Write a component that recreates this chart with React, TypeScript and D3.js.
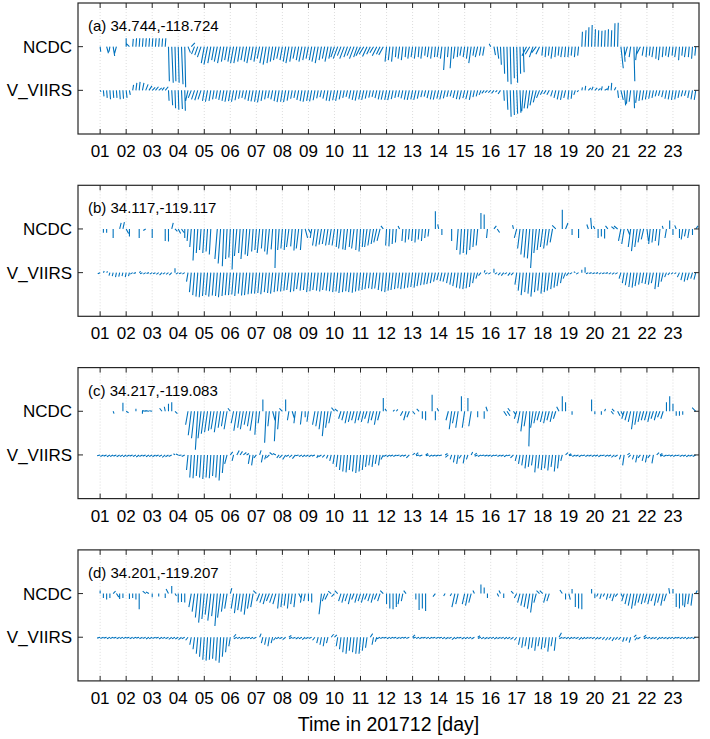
import React from 'react';
import * as d3 from 'd3';

// gaps in the record
const _ = null;

// day tick labels, December 2017
const dayLabels = ['01', '02', '03', '04', '05', '06', '07', '08', '09', '10', '11', '12',
  '13', '14', '15', '16', '17', '18', '19', '20', '21', '22', '23'];
const samplesPerDay = 8; // 3-hourly sticks
const rowNames = ['NCDC', 'V_VIIRS'];

// ---- (a) 34.744,-118.724 ---- v / u in m/s, one inner array per day
const ncdcA_v = [
  [-1.7, _, -2.2, -1.7, -3.1, -2.2, _, _], [2.8, 1.2, 2.6, 2.8, 2.8, 2.8, 2.8, 2.8],
  [2.8, 2.8, 2.8, 2.7, 2.8, -11.5, -12, -11.5], [-12, -12.5, -13.5, -2, 1.3, -2.5, -2.8, -3.5],
  [-5.5, -6, -5.5, -4.5, -5, -5.5, -5, -4.5], [-5, -5.5, -5.5, -5, -4.5, -5, -5.5, -4.5],
  [-5, -4, -5.5, -6, -5.5, -5, -4.5, -4], [-4.5, -5, -5.5, -5, -4, -4.5, -5, -4.5],
  [-4, -4.5, -5, -5.5, -4.5, -4, -5, -4], [-3.5, -4, -3, -4, -3.5, -3, -4, -3.5],
  [-3, -2.5, -3.3, -2.5, -2, -3, -2.5, -2.8], [-5, -4.5, -5, -3.5, -4, -4.5, -3.5, -4],
  [-3.5, -4, -3.5, -4, -3, -3.5, -4, -3.5], [-3.5, -4, -7.8, -3.5, -7.2, -4, -3.5, -3],
  [-3.5, -4, -5.5, -3, -3.5, -3, -3, _], [1, -2.8, -4, -6, -9, -11.7, -12.5, -10.5],
  [-12, -9, -8.5, -3, -2.5, -3.5, -2, -2.5], [-3, -3.5, -3, -4, -3.5, -3, -3.5, -3.5],
  [-3.5, -3, -3.5, -3, 5, 5.5, 6.5, 7.2], [5.8, 5.5, 5.3, 5.5, 5.8, 5.5, 7.8, 8],
  [-7.2, -5, -3.5, -3.5, -11.5, -4.5, -2.5, -3], [-3.5, -3, -3.5, -4, -4.5, -3.5, -3, -3.5],
  [-3, -3.5, -4.5, -3, -3.5, -3.5, -4, -3],
];
const ncdcA_u = [
  [0.2, _, 0.6, -0.3, 0.5, -0.6, _, _], [0, -1.2, 0.2, 0.2, 0.2, 0.2, 0.2, 0.2],
  [0.2, 0.2, 0.2, 0.2, 0.2, 0.3, 0.5, 0.3], [0.3, 0.5, 0.3, 0.8, 1.2, -1, -1, -1.2],
  [-1, -1.2, -1, -0.8, -1, -1, -0.8, -0.8], [-0.8, -1, -1, -0.8, -0.8, -0.8, -1, -0.8],
  [-0.8, -0.8, -1, -1, -0.8, -0.8, -0.8, -0.8], [-0.8, -0.8, -1, -0.8, -0.8, -0.8, -1, -0.8],
  [-0.8, -0.8, -1, -1, -0.8, -0.8, -1, -0.8], [-1.2, -1.5, -1.2, -1.5, -1.2, -1.2, -1.5, -1.2],
  [-1.5, -1.5, -1.5, -1.2, -1.2, -1.5, -1.2, -1.5], [-0.5, -0.5, -0.5, -0.3, -0.5, -0.5, -0.3, -0.5],
  [-0.5, -0.5, -0.3, -0.5, -0.3, -0.5, -0.5, -0.3], [-0.5, -0.5, -0.5, -0.3, -0.5, -0.5, -0.3, -0.5],
  [-0.5, -0.5, -0.8, -0.5, -0.8, -0.5, -0.5, _], [-0.5, 0.5, 0.5, 0.3, 0.3, 0.3, 0.3, 0.3],
  [0.3, 0.2, 0.3, -1.5, -1.5, -1.2, -1.5, -1.2], [-0.3, -0.3, -0.3, -0.5, -0.3, -0.3, -0.5, -0.3],
  [-0.3, -0.3, -0.3, -0.3, 0.2, 0.3, 0.2, 0.2], [0.2, 0.2, 0.2, 0.2, 0.2, 0.2, 0.2, 0.2],
  [0.8, 0.3, -1, -0.5, 0.3, -0.5, -1.3, -0.5], [-0.3, -0.3, -0.5, -0.3, -0.5, -0.3, -0.3, -0.5],
  [-0.3, -0.5, -0.3, -0.3, -0.5, -0.3, -0.3, -0.3],
];
const viirsA_v = [
  [-0.5, -2, -2.5, -3, -2.5, -2.5, -3, -2.8], [-2.5, -1.5, 1.8, 2.5, 2.8, 2.5, 2, 1.5],
  [1, 1.2, 0.8, 1, 1.2, -3.5, -5, -6], [-6.5, -6.2, -6.8, -3.5, -2.5, -3, -3.3, -3],
  [-3.5, -3.8, -3.5, -3, -2.8, -3.2, -3.5, -3.8], [-3.6, -3.8, -3.3, -2.8, -2.5, -3, -3.5, -3.7],
  [-3.8, -4, -3.5, -3, -2.6, -3, -3.6, -3.9], [-3.8, -3.9, -3.4, -2.8, -2.5, -3.2, -3.6, -3.8],
  [-3.5, -3.7, -3.3, -2.7, -2.3, -2.8, -3.4, -3.6], [-3.3, -3.5, -3, -2.5, -2.2, -2.8, -3.2, -3.4],
  [-3, -3.2, -2.8, -2.4, -2.2, -2.6, -3, -3.1], [-3.2, -3.3, -2.9, -2.5, -2.3, -2.7, -3.1, -3.2],
  [-3, -3.2, -2.8, -2.3, -2.1, -2.6, -3, -3.1], [-2.8, -3, -2.7, -2.2, -2, -2.5, -2.9, -3],
  [-2.6, -2.9, -3.2, -2.3, -2, -1.5, -1, -0.8], [-0.8, -1, -0.6, -1.2, -3.5, -6.5, -8.8, -8.2],
  [-7.8, -7.5, -7, -6, -6, -5, -4, -2.5], [-1.5, -1.2, -1.5, -2, -2.5, -3, -3.2, -2.5],
  [-3, -2.8, -1.5, -0.5, 1, 1.5, 0.8, 1.2], [0.8, 0.6, 1.3, 0.5, 1.5, 2.5, 1, -2.5],
  [-3.2, -5, -4.5, -3.8, -6, -4.2, -3.5, -3.3], [-3, -2.8, -2.5, -2, -1.8, -2.3, -2.8, -3],
  [-3.2, -3, -2.5, -2, -1.8, -2.5, -3, -3.2],
];
const viirsA_u = [
  [0.3, 0.2, 0.2, 0.2, 0.2, 0.2, 0.2, 0.2], [0.3, 0.3, 0.3, 0.3, 0.3, 0.5, 0.8, 1],
  [1, 1, 1, 0.8, 1, 0.2, 0.3, 0.2], [0.2, 0.3, 0.2, -0.8, -1, -1, -1, -1],
  [-0.6, -0.7, -0.6, -0.5, -0.5, -0.6, -0.6, -0.7], [-0.6, -0.7, -0.6, -0.5, -0.5, -0.6, -0.6, -0.7],
  [-0.6, -0.7, -0.6, -0.5, -0.5, -0.6, -0.6, -0.7], [-0.6, -0.7, -0.6, -0.5, -0.5, -0.6, -0.6, -0.7],
  [-0.6, -0.7, -0.6, -0.5, -0.5, -0.6, -0.6, -0.7], [-0.6, -0.7, -0.6, -0.5, -0.5, -0.6, -0.6, -0.7],
  [-0.6, -0.7, -0.6, -0.5, -0.5, -0.6, -0.6, -0.7], [-0.6, -0.7, -0.6, -0.5, -0.5, -0.6, -0.6, -0.7],
  [-0.6, -0.7, -0.6, -0.5, -0.5, -0.6, -0.6, -0.7], [-0.6, -0.7, -0.6, -0.5, -0.5, -0.6, -0.6, -0.7],
  [-0.6, -0.7, -0.6, -0.5, -0.5, -0.6, -0.8, -0.8], [-0.8, -0.8, -0.6, -0.8, 0.2, 0.3, 0.3, 0.3],
  [0.3, 0.3, -0.5, -0.8, -0.8, -1, -1, -1], [-0.8, -0.8, -0.8, -0.6, -0.6, -0.6, -0.6, -0.6],
  [-0.3, -0.3, -0.5, -0.5, 0.2, 0.2, 0.8, 0.5], [0.8, 0.8, 0.3, 1, 0.3, 0.2, 0.5, 0.3],
  [0.8, 0.5, -0.3, -0.5, 0.2, -0.5, -0.5, -0.5], [-0.5, -0.5, -0.5, -0.5, -0.5, -0.5, -0.5, -0.5],
  [-0.5, -0.5, -0.5, -0.5, -0.5, -0.5, -0.5, -0.5],
];

// ---- (b) 34.117,-119.117 ----
const ncdcB_v = [
  [_, -1.3, -1.3, _, -3, _, 2, 2.3], [-1.5, -2.5, _, _, -3, _, -0.5, _],
  [-3, _, _, _, -4, -4.2, 2, -0.8], [-1.5, -1.2, -3, -4, -6, -10.5, -8, -7],
  [-8, -7.5, -8.5, _, -10, -11.5, -12.4, -10], [-9.5, -13.5, -9, -8, -10, -8.5, -9, -7.5],
  [-7, -8, -6.5, -7.5, -8.5, -6.8, -13, -7], [-6.5, -7, -6, -5.8, -7.2, -6.5, -7, -3],
  [-1.5, -3, -5.5, -5.8, -5.2, -5, -5.5, -5.3], [-5.5, -6, -6.5, -6.8, -7, -6, -6.5, -7],
  [-7.5, -6, -6, -5.5, -5, -4.5, -4, 1], [-5.5, -5.8, -5, -4.5, 1, -4, -4.5, -3.5],
  [-4, -4.5, -3.5, -4, -3, -2.5, _, 5.9], [1.5, -2, _, _, -4, _, -7, -8.5],
  [-8, -8.5, -7, -6, -5.5, 5.3, 4.8, -3], [_, 1, -1.2, _, _, _, _, 1.3],
  [-3, -6.5, -8.5, -9.5, -9.8, -13, -8, -7], [-6, -6.5, -5.5, -4.5, 1.2, _, 6.4, 2],
  [_, -2, _, -3, _, _, 1.5, 3.7], [1, -3, -2.5, -3.2, 1, _, 0.8, 1],
  [-4, -5, -2, -6, -7.4, -6, -4.5, -3.5], [-4, -5, -4.5, -4, -5.5, 1, -3, 2.8],
  [-2, 1.2, -3, -3.5, -2.5, -3, -2, 1],
];
const ncdcB_u = [
  [_, 0, 0, _, 0, _, 0.5, 0.5], [0.8, 0, _, _, 0, _, -0.8, _],
  [0, _, _, _, 0, 0, 0.5, 0.8], [0.8, 0.8, 0, -0.3, -0.5, -0.5, -0.5, -0.5],
  [-0.5, -0.5, -0.5, _, -0.8, -0.8, -0.5, -0.5], [-0.5, -0.5, -0.8, -0.5, -0.8, -0.5, -0.8, -0.5],
  [-0.5, -0.8, -0.5, -0.5, -0.8, -0.5, -0.3, -0.5], [-0.5, -0.5, -0.8, -0.5, -0.5, -0.8, -0.5, 0.8],
  [0.8, -0.5, -0.8, -0.8, -0.8, -0.8, -0.8, -0.8], [-0.8, -0.5, -0.8, -0.5, -0.8, -0.5, -0.8, -0.5],
  [-0.5, -0.5, -0.8, -0.8, -0.8, -1, -1, -0.8], [-0.3, -0.3, -0.3, -0.3, -0.5, -0.3, -0.3, -0.3],
  [-0.3, -0.3, -0.3, -0.3, -0.3, -0.3, _, 0], [-0.3, 0, _, _, 0, _, -0.5, -0.5],
  [-0.5, -0.5, -0.5, -0.5, -0.5, 0, 0, -0.3], [_, 0.8, 0.8, _, _, _, _, -0.3],
  [-0.8, -0.8, -0.8, -0.8, -0.8, -0.8, -0.8, -0.8], [-0.8, -0.8, -0.8, -0.8, -1.2, _, 0, 0.8],
  [_, 0, _, 0, _, _, -0.5, -0.3], [-0.5, 0, 0, 0, -0.8, _, -1, -1.2],
  [-0.8, -0.8, 0.8, -0.8, -0.8, -0.8, -0.8, -0.8], [0.5, -0.5, -0.5, -0.5, -0.5, -0.3, -0.5, 0],
  [0, -0.5, 0, -0.5, -0.5, -0.5, 0, 0.8],
];
const viirsB_v = [
  [-0.4, 0.5, 0.4, -1, -1.2, -1.5, -1.3, -1.2], [-1.5, -1.2, -0.5, -0.3, 0.4, -0.4, -0.5, -0.3],
  [-0.5, -0.4, -0.6, -0.8, -0.5, -0.6, -0.8, 1.5], [-0.5, -0.4, -0.5, -3, -6.5, -7.5, -8, -8.2],
  [-7.8, -7.5, -8, -7.6, -7.8, -8.2, -7.8, -7.5], [-7.5, -7.3, -7.8, -7, -7.6, -7.5, -7.2, -7],
  [-7, -6.8, -7.2, -6.5, -6.8, -7, -6.5, -6.2], [-6.3, -6, -5.8, -6.5, -6.2, -5.5, -6, -5.8],
  [-6.5, -6.2, -5.8, -6, -6.3, -5.8, -6, -6.2], [-6.5, -6.3, -6.8, -6.5, -6.2, -6.5, -6.7, -6.3],
  [-6, -5.8, -5.5, -5.2, -5.5, -5.3, -5.8, -6.2], [-6.5, -6, -5.8, -5.5, -5.2, -5.5, -5.3, -5],
  [-4.8, -5, -4.5, -4.2, -4, -3.8, -3.5, -3], [-2.5, -2.8, -3, -3.5, -4, -4.5, -5, -5.3],
  [-5.5, -5.2, -4.8, -3.5, -2, -1, 0.8, -0.5], [-0.5, 1.3, -0.5, -0.8, -1, -0.5, -1, -0.8],
  [-4, -6, -7.5, -6.5, -7, -8, -6.5, -6], [-7, -6.5, -6, -5.5, -5, -4.5, -3.5, -2],
  [-1, -0.5, 0.3, -0.5, 1, 1.8, -0.4, -0.3], [-0.4, -0.3, -0.5, -0.4, -0.3, -0.5, -0.6, -0.5],
  [-2, -3.5, -4.2, -4.8, -5, -4.5, -4, -3.5], [-3.8, -4, -3.5, -5.5, -4.8, -3, -1.5, -0.8],
  [-0.5, -0.4, -1.5, -2.5, -3, -2.5, -2, -2.3],
];
const viirsB_u = [
  [-0.8, 0.3, 0.3, -0.3, -0.3, -0.3, -0.3, -0.3], [-0.3, -0.3, -0.8, -0.8, 0.5, -0.8, -0.8, -0.8],
  [-0.8, -0.8, -0.8, -0.8, -0.8, -0.8, -0.8, 0], [-0.8, -0.8, -0.8, -0.5, -0.6, -0.6, -0.6, -0.6],
  [-0.6, -0.6, -0.7, -0.6, -0.6, -0.7, -0.6, -0.6], [-0.6, -0.6, -0.7, -0.6, -0.6, -0.7, -0.6, -0.6],
  [-0.6, -0.6, -0.7, -0.6, -0.6, -0.7, -0.6, -0.6], [-0.6, -0.6, -0.7, -0.6, -0.6, -0.7, -0.6, -0.6],
  [-0.6, -0.6, -0.7, -0.6, -0.6, -0.7, -0.6, -0.6], [-0.6, -0.6, -0.7, -0.6, -0.6, -0.7, -0.6, -0.6],
  [-0.6, -0.6, -0.7, -0.6, -0.6, -0.7, -0.6, -0.6], [-0.6, -0.6, -0.7, -0.6, -0.6, -0.7, -0.6, -0.6],
  [-0.6, -0.6, -0.7, -0.6, -0.6, -0.7, -0.6, -0.6], [-0.6, -0.6, -0.7, -0.6, -0.6, -0.7, -0.6, -0.6],
  [-0.6, -0.6, -0.6, -0.6, -0.6, -0.8, 0.3, -0.8], [-0.8, 0, -0.8, -0.8, -0.8, -0.8, -0.8, -0.8],
  [-0.6, -0.6, -0.7, -0.6, -0.6, -0.7, -0.6, -0.6], [-0.6, -0.6, -0.7, -0.6, -0.6, -0.7, -0.6, -0.8],
  [-0.8, -0.8, -0.5, -0.8, 0, 0, -0.8, -0.8], [-0.8, -0.8, -0.8, -0.8, -0.8, -0.8, -0.8, -0.8],
  [-0.6, -0.6, -0.7, -0.6, -0.6, -0.7, -0.6, -0.6], [-0.6, -0.6, -0.7, -0.6, -0.6, -0.7, -0.6, -0.6],
  [-0.6, -0.6, -0.7, -0.6, -0.6, -0.7, -0.6, -0.6],
];

// ---- (c) 34.217,-119.083 ----
const ncdcC_v = [
  [_, _, _, _, -0.8, _, _, 2.8], [-0.5, _, _, 0.8, _, -0.8, 0.2, 0.2],
  [0.2, _, _, 1, 1.5, 2.5, 3, -0.8], [_, _, _, -4.5, -8, -9, -12.8, -9],
  [-7.5, -7, -6.5, -6, -7, -5.5, -5, -6], [1, -4, -6.5, -5.5, -6, -4.5, -5, -6.5],
  [-7.8, -4, 3.9, -10.5, -5, -3, -10, -6], [1, 3.9, -3, -2.5, -4, _, -4.4, -2],
  [-3.5, _, -4.5, -5, -6, -8.3, -5.5, -4], [1.2, 0.8, -2.5, -3, -4, -3.5, -3, -4],
  [-3, -3.5, -2.5, -4, -3, -4.5, -3, 4.4], [0.8, _, 0.5, 0.6, _, -1.5, -3, -2],
  [-1, _, 0.8, -2.5, -3, _, 5.5, -3], [1, _, _, -3, -6, -4, -5.5, 5],
  [-5.5, 4.4, -5, _, -2, _, -2.5, 1.5], [_, _, _, _, -1.5, -1.5, 1, -1.2],
  [-2.5, -4, -6.7, -5, -11.7, -5.5, -4, -3], [-3.5, -4, -3, -3.5, -2.5, 1.5, 5, 3],
  [_, -1.2, _, _, _, _, _, 3.9], [-1, _, -1.2, 0.8, _, -1, 0.8, -1.5],
  [-1.5, -2.5, -3, -3.5, -6, -4.5, -3.5, -3], [-3, -3.5, -2.5, -3, -2, -2.5, 3, 5],
  [2.5, -1.5, -1.5, -1.2, _, _, _, 1.2],
];
const ncdcC_u = [
  [_, _, _, _, 0.3, _, _, 0], [0.8, _, _, 0, _, 0, -1.2, -1.2],
  [-1, _, _, -0.8, -0.3, 0, 0, 0.8], [_, _, _, -0.8, -1, -1, -0.8, -1],
  [-1, -1, -0.8, -1, -1, -0.8, -0.8, -1], [-0.8, -0.8, -1, -0.8, -1, -0.8, -0.8, -1],
  [-0.5, -0.5, 0, -0.5, -0.5, 0.8, -0.5, -0.5], [-1, 0, -0.5, 0.8, -0.5, _, -0.5, 0],
  [-0.5, _, -0.8, -0.8, -0.8, -0.8, -0.8, -0.8], [-1, -1, -0.8, -0.8, -0.8, -0.8, -0.8, -0.8],
  [-0.8, -0.8, -0.8, -0.8, -0.8, -0.8, -0.8, 0], [-0.5, _, 0.5, 0.5, _, -0.8, -0.8, -0.8],
  [0.8, _, -0.8, 0, 0, _, 0, 0], [-0.5, _, _, -0.8, -0.8, -0.8, -0.8, 0],
  [-0.8, 0, -0.8, _, 0, _, 0, -0.5], [_, _, _, _, 1, 1, -0.8, 0.8],
  [-0.8, -0.8, -0.8, -0.8, -0.3, -0.8, -0.8, -0.8], [-0.8, -0.8, -0.8, -0.8, -0.8, -0.8, 0, 0],
  [_, 0, _, _, _, _, _, 0], [0, _, 0, 0.3, _, 0.8, -0.8, 0.8],
  [0.8, -0.8, -0.8, -0.8, -0.8, -0.8, -0.8, -0.8], [-0.8, -0.8, -0.8, -0.8, -0.8, -0.8, 0, 0],
  [0, 0, 0, 0, _, _, _, -1.2],
];
const viirsC_v = [
  [-0.3, -0.5, -0.4, -0.6, -0.5, -0.4, -0.6, -0.5], [-0.6, -0.5, -0.4, -0.5, -0.7, -0.5, -0.4, -0.6],
  [-0.5, -0.6, -0.4, -0.5, -0.8, -0.6, -0.5, 0.4], [0.3, -0.2, -0.5, -5, -7.5, -7.8, -7, -7.5],
  [-8, -7.5, -7.8, -7, -7.5, -8.5, -6, -3], [1, -2, 1.5, 1.2, 0.8, 0.5, -3, -3.5],
  [-1, 1.5, -2.5, -1.5, -1, 0.8, 0.5, -1], [-1, -1.5, -0.5, -0.8, -1.2, -0.3, -0.5, -0.6],
  [-0.5, -0.6, -0.4, -1, -0.6, -0.8, -1.2, -2], [-3, -4, -5, -5.5, -5.8, -5, -5.5, -6],
  [-5.5, -5, -4, -3.5, -4, -3, -3.5, -1.5], [-0.5, -0.6, -0.4, -0.5, -0.3, -0.5, -0.4, -1],
  [0.6, 0.8, -0.3, -0.4, 0.5, -0.3, -0.5, -0.4], [-0.4, -0.3, 0.5, -0.8, -1.5, -2.5, -3, -1.2],
  [-2.8, -1.5, 1, 0.6, -0.4, -0.5, -0.3, -0.4], [-0.4, -0.5, -0.3, -0.5, -0.4, -0.6, -0.3, -1],
  [-2, -3, -3.5, -4.5, -4, -3.5, -5.8, -4.5], [-5, -4.5, -5.2, -4, -5.5, -4.5, -2, 0.8],
  [0.4, -0.3, -0.5, -0.4, -0.6, -0.3, -0.5, -0.4], [-0.5, -0.4, -0.6, -0.3, -0.5, -0.4, -0.8, -0.6],
  [-1.5, -3.5, 0.6, -0.8, -1.5, -2.5, -1, -2], [-2.5, -1, -2.8, 0.8, 0.5, -0.4, -0.5, -0.3],
  [-0.4, -0.5, -0.3, -0.5, -0.4, -0.6, -0.4, -0.5],
];
const viirsC_u = [
  [-1, -1, -1, -1, -1, -1, -1, -1], [-1, -1, -1, -1, -1, -1, -1, -1],
  [-1, -1, -1, -1, -1, -1, -1, -0.5], [-0.8, -1, -1, -0.5, -0.5, -0.5, -0.5, -0.5],
  [-0.5, -0.5, -0.5, -0.5, -0.5, -0.5, -0.5, -0.8], [0.8, -0.5, 0.8, 0.8, 1, 0.8, -0.5, -0.5],
  [-0.8, 0.5, -0.5, -0.5, -1, -1, -1, -0.8], [-1, -1, -1, -1, -1, -1, -1, -1],
  [-1, -1, -1, -0.5, -1, -0.8, -0.5, -0.5], [-0.5, -0.5, -0.5, -0.5, -0.5, -0.5, -0.5, -0.5],
  [-0.5, -0.5, -0.5, -0.5, -0.5, -0.5, -0.5, -0.8], [-1, -1, -1, -1, -1, -1, -1, -1],
  [0.8, 0.8, -1, -1, 0.8, -1, -1, -1], [-1, -1, 0.8, -1, -0.5, -0.5, -0.5, -0.8],
  [-0.5, -0.5, 0.5, 0.8, -1, -1, -1, -1], [-1, -1, -1, -1, -1, -1, -1, -1],
  [-0.5, -0.5, -0.5, -0.5, -0.5, -0.5, -0.5, -0.5], [-0.5, -0.5, -0.5, -0.5, -0.5, -0.5, -0.5, 0.8],
  [0.8, -1, -1, -1, -1, -1, -1, -1], [-1, -1, -1, -1, -1, -1, -1, -1],
  [-0.5, -0.5, 0.8, -0.8, -0.5, -0.5, -0.8, -0.5], [-0.5, -0.8, -0.5, 0.8, 0.8, -1, -1, -1],
  [-1, -1, -1, -1, -1, -1, -1, -1],
];

// ---- (d) 34.201,-119.207 ----
const ncdcD_v = [
  [1, -1.5, -2, -1.5, 0.8, -1.2, -1.8, -1.5], [_, -1.8, -1.5, -2, -5.2, _, 0.8, 0.5],
  [-1.2, _, -1, _, -1.5, 1.5, 2.5, -0.8], [-3, -2.8, -3, _, -4.5, -6, -8, -9.7],
  [-8.5, -7, -9, -7.5, -10.8, -8, -6, -5], [1.8, -5, -6.5, -5.5, -6, -7, -5, -4.5],
  [1, -2.5, -3, -3.5, -2.5, -3, -3.5, -5], [-4.5, -4, -5, -3.5, -4.5, -1.5, -3, -2.5],
  [-2.5, -3, _, _, -6.9, -2.5, -2, 0.8], [-1, 1, -2.5, -3, -2.5, -3.5, -2, -3],
  [-2.5, -3, -2, -2.5, -3, -2, -2.5, 1], [-3.5, -5, -5.2, -4.5, -3.5, -2.5, 1, _],
  [_, -2, -5.5, -5, -5.8, _, _, -1], [_, _, -0.8, _, -0.8, -4.5, -3.5, _],
  [-3.5, -4, -3, 1, _, 3, 2, -1.5], [_, _, -1, 1, -1.5, _, _, 0.8],
  [-1.5, -3, -4, -4.5, -5, -6.3, -3, 1], [1, -3, -2.5, _, _, _, 1.2, -2],
  [-2, 1.5, -4.5, -5, -5.2, _, _, 1.5], [-1.5, -1, -1.8, -1, -2, -1.5, -2.5, -1],
  [-1, -2.5, -3.5, -4, -5, -4, -3, -3.5], [-3, -3.5, -2.5, -4, -3, -4, -2.5, 1.8],
  [1.5, -4.5, -5, -4, -4.5, -3.5, -4, 1],
];
const ncdcD_u = [
  [0, 0, 0, 0, 0.8, 0.8, 0, 0], [_, 0, 0, 0, 0, _, -1, -1],
  [0, _, 0, _, 0, -0.8, 0, 0.5], [0, 0, 0, _, -0.8, -0.8, -0.8, -0.8],
  [-0.8, -0.8, -1, -0.8, -0.8, -1, -0.8, -0.8], [0.5, -0.8, -0.8, -0.8, -0.8, -0.8, -0.8, -0.8],
  [-1, -1, -1, -1, -1, -1, -1, -0.5], [-0.5, -0.5, -0.5, -0.5, -0.5, 0.8, -0.5, -0.5],
  [0, 0, _, _, -0.8, -0.8, -1, -1], [-1, -1, -0.8, -0.8, -0.8, -0.8, -0.8, -0.8],
  [-0.8, -0.8, -0.8, -0.8, -0.8, -0.8, -0.8, -1], [0, 0, 0, 0, -0.5, -0.5, -0.8, _],
  [_, 0, 0, 0, 0, _, _, -0.8], [_, _, -0.5, _, -0.5, -1, -0.8, _],
  [-0.8, -0.8, -0.8, -0.5, _, 0, 0, 0], [_, _, 0.5, -0.5, 0, _, _, -0.8],
  [-0.8, -0.8, -0.8, -0.8, -0.8, -0.8, -0.8, -1], [-1, -0.8, -0.8, _, _, _, -0.8, 0],
  [0.5, 0, 0, 0, 0, _, _, 0], [0, -0.5, -0.5, -0.5, -0.5, -0.5, -0.8, -0.8],
  [0.5, -0.8, -0.8, -0.8, -0.8, -0.8, -0.8, -0.8], [-0.8, -0.8, -0.8, -0.8, -0.8, -0.8, -0.8, -0.3],
  [0, 0, 0, 0, -0.5, -0.5, -0.5, 0.5],
];
const viirsD_v = [
  [-0.3, -0.4, -0.3, -0.5, -0.4, -0.3, -0.5, -0.4], [-0.4, -0.3, -0.5, -0.4, -0.3, -0.5, -0.4, -0.6],
  [-0.5, -0.4, -0.3, -0.6, -0.4, -0.5, -0.7, -0.5], [-0.6, -0.8, -0.5, -1, -2.5, -4, -5.5, -6.5],
  [-7.5, -7.8, -7.5, -7.2, -7.8, -8.5, -6.5, -5], [-3, 1, -0.5, -0.4, -0.6, -0.5, -0.3, -0.5],
  [-0.5, 1.2, -2, -2.5, -3, -2, -1, -0.5], [-0.5, -0.8, 0.6, -0.5, -0.4, -0.6, -0.5, -0.8],
  [-0.5, -0.4, -1, -2, -2.5, -3, -2, 1], [0.8, -3, -4, -5, -5.5, -4.5, -5, -5.5],
  [-5.5, -4.5, -3.5, 1.2, -2.5, -1.5, -0.5, -0.4], [-0.3, -0.5, -0.4, -0.3, -0.5, -0.4, -0.3, -0.4],
  [0.8, -0.3, -0.4, -0.5, -0.3, -0.4, -0.5, -0.3], [-0.4, -0.3, -0.5, -0.6, -0.4, -0.8, -0.5, -0.3],
  [-0.6, -0.5, -0.4, -0.6, 0.5, -0.4, -0.5, -0.6], [-0.5, -0.4, -0.6, -0.5, -0.4, -0.6, -0.5, -0.7],
  [-1, -2.5, -3.5, -3, -4, -3.5, -4.5, -3], [-4, -3.5, -4.8, -3, -4.5, 1.5, -0.5, -0.4],
  [-0.5, -0.6, -0.4, -0.5, -0.8, -0.6, -0.5, -0.4], [-0.5, -0.7, -0.6, -0.8, -1, -0.8, -1.2, -0.8],
  [-0.8, -1.5, -1.2, -1.8, 0.8, -1, -0.6, 0.7], [-0.5, -0.4, -0.6, -0.5, -0.8, -0.4, -0.5, -0.6],
  [-0.4, -0.5, -0.3, -0.5, -0.4, -0.6, -0.4, -0.5],
];
const viirsD_u = [
  [-1, -1, -1, -1, -1, -1, -1, -1], [-1, -1, -1, -1, -1, -1, -1, -1],
  [-1, -1, -1, -1, -1, -1, -1, -1], [-1, -1, -1, -0.8, -0.5, -0.5, -0.5, -0.5],
  [-0.5, -0.5, -0.5, -0.5, -0.5, -0.5, -0.5, -0.5], [-0.5, 0.8, -1, -1, -1, -1, -1, -1],
  [-1, 0.5, -0.5, -0.5, -0.5, -0.5, -0.8, -1], [-1, -1, 0.8, -1, -1, -1, -1, -1],
  [-1, -1, -0.8, -0.5, -0.5, -0.5, -0.5, 0.8], [0.8, -0.5, -0.5, -0.5, -0.5, -0.5, -0.5, -0.5],
  [-0.5, -0.5, -0.5, 0.8, -0.5, -0.5, -1, -1], [-1, -1, -1, -1, -1, -1, -1, -1],
  [0.8, -1, -1, -1, -1, -1, -1, -1], [-1, -1, -1, -1, -1, -1, -1, -1],
  [-1, -1, -1, -1, 0.8, -1, -1, -1], [-1, -1, -1, -1, -1, -1, -1, -1],
  [-0.8, -0.5, -0.5, -0.5, -0.5, -0.5, -0.5, -0.5], [-0.5, -0.5, -0.5, -0.5, -0.5, 0.8, -1, -1],
  [-1, -1, -1, -1, -1, -1, -1, -1], [-1, -1, -1, -0.8, -0.8, -0.8, -0.8, -0.8],
  [-0.8, -0.5, -0.5, -0.5, 0.8, -0.8, -1, 0.8], [-1, -1, -1, -1, -1, -1, -1, -1],
  [-1, -1, -1, -1, -1, -1, -1, -1],
];

const panels = [
  { tag: '(a) 34.744,-118.724', rows: [[ncdcA_v, ncdcA_u], [viirsA_v, viirsA_u]] },
  { tag: '(b) 34.117,-119.117', rows: [[ncdcB_v, ncdcB_u], [viirsB_v, viirsB_u]] },
  { tag: '(c) 34.217,-119.083', rows: [[ncdcC_v, ncdcC_u], [viirsC_v, viirsC_u]] },
  { tag: '(d) 34.201,-119.207', rows: [[ncdcD_v, ncdcD_u], [viirsD_v, viirsD_u]] },
];

const W = 710;
const H = 739;
const margin = { left: 78, right: 11, top: 3 };
const panelH = 131;
const panelStep = 182.3;
const font = '"Liberation Sans", Arial, Helvetica, sans-serif';
const stickColor = '#0072BD';

const x = d3.scaleLinear().domain([0.15, 24.0]).range([margin.left, W - margin.right]);
// m/s -> px for stick length
const speed = d3.scaleLinear().domain([0, 1]).range([0, 3]);

function sticksPath(vDays, uDays, yBase) {
  const p = d3.path();
  vDays.forEach((day, di) => {
    day.forEach((v, si) => {
      const u = uDays[di][si];
      if (v === null || u === null) return;
      const t = di + 1 + si / samplesPerDay;
      const x0 = x(t);
      p.moveTo(x0, yBase);
      p.lineTo(x0 + speed(u), yBase - speed(v));
    });
  });
  return p.toString();
}

const Panel = ({ panel, top }) => {
  const bottom = top + panelH;
  const y = d3.scaleLinear().domain([0, 3]).range([bottom, top]);
  const rowY = [y(2), y(1)];
  const [x0, x1] = x.range();
  const dayVals = dayLabels.map(d => +d);
  return (
    <g>
      {dayVals.map(d => (
        <line key={'g' + d} x1={x(d)} x2={x(d)} y1={top} y2={bottom}
          stroke="#d4d4d4" strokeWidth={0.8} strokeDasharray="1,2" />
      ))}
      {panel.rows.map(([v, u], i) => (
        <path key={'s' + i} d={sticksPath(v, u, rowY[i])} fill="none"
          stroke={stickColor} strokeWidth={1.1} />
      ))}
      <rect x={x0} y={top} width={x1 - x0} height={panelH} fill="none" stroke="#262626" strokeWidth={1.2} />
      {dayVals.map(d => (
        <g key={'t' + d}>
          <line x1={x(d)} x2={x(d)} y1={top} y2={top + 5} stroke="#262626" strokeWidth={1} />
          <line x1={x(d)} x2={x(d)} y1={bottom} y2={bottom - 5} stroke="#262626" strokeWidth={1} />
          <text x={x(d)} y={bottom + 23} textAnchor="middle" fontSize={17} fill="#000">{dayLabels[d - 1]}</text>
        </g>
      ))}
      {rowNames.map((name, i) => (
        <g key={name}>
          <line x1={x0} x2={x0 + 5} y1={rowY[i]} y2={rowY[i]} stroke="#262626" strokeWidth={1} />
          <line x1={x1} x2={x1 - 5} y1={rowY[i]} y2={rowY[i]} stroke="#262626" strokeWidth={1} />
          <text x={x0 - 6} y={rowY[i] + 6} textAnchor="end" fontSize={17} fill="#000">{name}</text>
        </g>
      ))}
      <text x={x0 + 10} y={top + 28} fontSize={15} fill="#000">{panel.tag}</text>
    </g>
  );
};

export default function App() {
  const [x0, x1] = x.range();
  return (
    <div style={{ position: 'absolute', left: 0, top: 0 }}>
      <svg width={W} height={H} style={{ display: 'block', background: '#fff', fontFamily: font }}>
        {panels.map((p, i) => (
          <Panel key={p.tag} panel={p} top={margin.top + i * panelStep} />
        ))}
        <text x={(x0 + x1) / 2} y={731} textAnchor="middle" fontSize={19.5} fill="#000">
          Time in 201712 [day]
        </text>
      </svg>
    </div>
  );
}
